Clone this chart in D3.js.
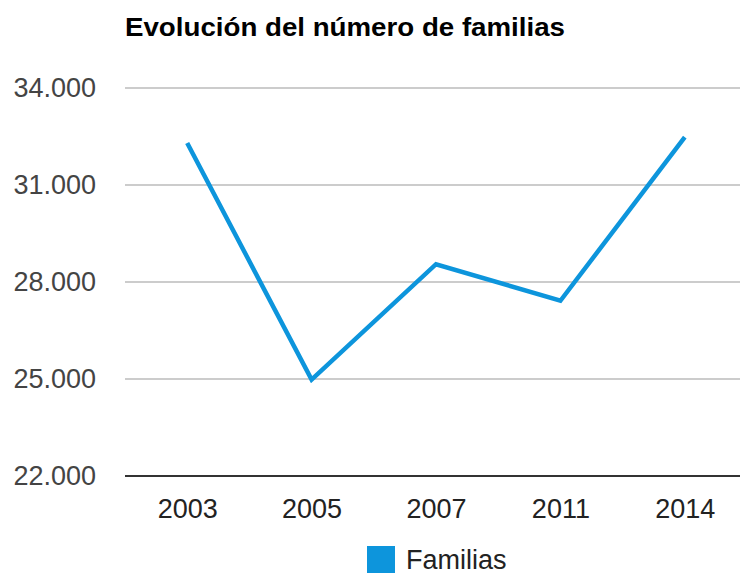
<!DOCTYPE html>
<html lang="es">
<head>
  <meta charset="UTF-8">
  <title>Evolución del número de familias</title>
  <style>
    html, body {
      background: #fff;
      margin: 0px;
      overflow: hidden;
    }
    svg text {
      font-family: "Liberation Sans", Arial, sans-serif;
    }
  </style>
</head>
<body>
<div id="container"></div>
<script src="https://cdnjs.cloudflare.com/ajax/libs/d3/7.8.5/d3.min.js"></script>
<script>

  var years = ['2003', '2005', '2007', '2011', '2014'];
  var familias = [32300, 24980, 28550, 27420, 32480];
  var yTicks = [22000, 25000, 28000, 31000, 34000];
  var seriesName = 'Familias';
  var title = 'Evolución del número de familias';

  var width = 740, height = 573;

  var svg = d3.select('#container').append('svg')
    .attr('width', width)
    .attr('height', height);

  var x = d3.scalePoint()
    .domain(years)
    .range([125, 747])
    .padding(0.5);

  var y = d3.scaleLinear()
    .domain([22000, 34000])
    .range([476, 88]);

  var fmt = function(d) { return d3.format(',')(d).replace(/,/g, '.'); };

  // title (stretched a little, the reference is wider than the font)
  svg.append('text')
    .attr('x', 125)
    .attr('y', 36)
    .attr('textLength', 440)
    .attr('lengthAdjust', 'spacingAndGlyphs')
    .style('font-size', '25px')
    .style('font-weight', 'bold')
    .style('fill', '#000')
    .text(title);

  // gridlines
  svg.append('g')
    .selectAll('line')
    .data(yTicks)
    .enter()
    .append('line')
    .attr('x1', 125)
    .attr('x2', width)
    .attr('y1', d => y(d))
    .attr('y2', d => y(d))
    .style('stroke', d => d === 22000 ? '#333' : '#ccc')
    .style('stroke-width', 2);

  // y axis labels
  var yAxis = svg.append('g')
    .attr('transform', 'translate(96,0)')
    .call(d3.axisLeft(y).tickValues(yTicks).tickFormat(fmt).tickSize(0).tickPadding(0));
  yAxis.select('.domain').remove();
  yAxis.selectAll('text')
    .style('font-size', '27px')
    .style('fill', '#444')
    .attr('font-family', null);

  // x axis labels
  var xAxis = svg.append('g')
    .attr('transform', 'translate(0,' + y(22000) + ')')
    .call(d3.axisBottom(x).tickSize(0).tickPadding(23));
  xAxis.select('.domain').remove();
  xAxis.selectAll('text')
    .style('font-size', '27px')
    .style('fill', '#222')
    .attr('font-family', null);

  // line
  var line = d3.line()
    .x((d, i) => x(years[i]))
    .y(d => y(d));

  svg.append('path')
    .datum(familias)
    .attr('d', line)
    .style('fill', 'none')
    .style('stroke', '#0d95dc')
    .style('stroke-width', 4.5)
    .style('stroke-linejoin', 'miter');

  // legend
  var legend = svg.append('g').attr('transform', 'translate(367,546)');
  legend.append('rect')
    .attr('width', 28)
    .attr('height', 28)
    .style('fill', '#0d95dc');
  legend.append('text')
    .attr('x', 39)
    .attr('y', 23)
    .style('font-size', '27px')
    .style('fill', '#222')
    .text(seriesName);

</script>
</body>
</html>
